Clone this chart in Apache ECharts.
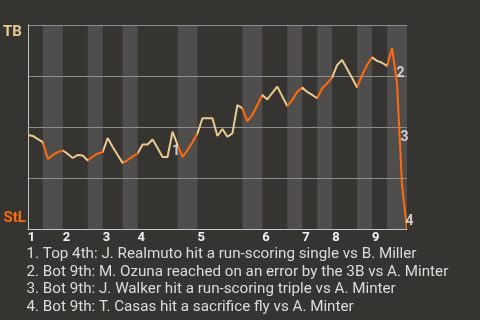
<!DOCTYPE html>
<html>
<head>
<meta charset="utf-8">
<script src="https://cdn.jsdelivr.net/npm/echarts@6/dist/echarts.min.js"></script>
<style>
  html, body { margin: 0; padding: 0; background: #363430; }
  #chart { width: 480px; height: 320px; }
</style>
</head>
<body>
<div id="chart"></div>
<script>
// Tampa Bay win probability (%) after each play; index 0 is the first pitch
const tbWinPct = [
  46.1, 45.6, 44.1, 42.6, 34.3, 36.3, 37.7, 38.5, 36.8, 34.8,
  36.3, 36.0, 33.6, 35.5, 37.0, 37.7, 44.6, 40.2, 36.3, 32.4,
  33.8, 35.5, 37.0, 41.4, 41.4, 43.9, 39.7, 35.3, 35.3, 47.7,
  41.2, 35.4, 38.7, 42.5, 46.9, 54.3, 54.3, 54.3, 45.6, 49.0,
  45.2, 46.9, 60.8, 59.1, 52.9, 55.9, 60.8, 65.7, 63.5, 66.7,
  69.8, 65.0, 60.3, 63.2, 67.3, 69.3, 67.2, 65.7, 64.1, 69.0,
  71.4, 74.3, 80.4, 82.8, 78.4, 74.0, 69.4, 75.5, 80.4, 84.1,
  82.4, 81.5, 79.9, 88.6, 71.6, 21.6, 0
];

// Play index at which each half inning begins
const topHalfStart    = [0, 7, 15, 22, 34, 47, 55, 61, 69];
const bottomHalfStart = [3, 12, 19, 30, 43, 52, 58, 66, 72];
const lastPlay = 76;
const inningLabels = ['1', '2', '3', '4', '5', '6', '7', '8', '9'];

// Highlighted plays and their descriptions
const keyPlays = [29, 74, 75, 76];
const keyPlayNotes = [
  'Top 4th: J. Realmuto hit a run-scoring single vs B. Miller',
  'Bot 9th: M. Ozuna reached on an error by the 3B vs A. Minter',
  'Bot 9th: J. Walker hit a run-scoring triple vs A. Minter',
  'Bot 9th: T. Casas hit a sacrifice fly vs A. Minter'
];

const TAN = '#e8ca92';
const ORANGE = '#ff6a0c';
const BAND = '#4f4e4c';
const FONT = 'Roboto, "Noto Sans", sans-serif';

// label nudges for the play numbers (pixels)
const noteNudge = [[2, 0], [2, 1], [1, -3], [1, 8]];

const halfEnd = i => (i + 1 < topHalfStart.length ? topHalfStart[i + 1] : lastPlay);

const pieces = [];
topHalfStart.forEach((s, i) => {
  pieces.push({ gte: s, lt: bottomHalfStart[i], color: TAN });
  if (i + 1 < topHalfStart.length) {
    pieces.push({ gte: bottomHalfStart[i], lt: halfEnd(i), color: ORANGE });
  } else {
    pieces.push({ gte: bottomHalfStart[i], lte: lastPlay, color: ORANGE });
  }
});

const bands = bottomHalfStart.map((s, i) => [{ xAxis: s }, { xAxis: halfEnd(i) }]);

const lineData = tbWinPct.map((v, i) => [i, v]);

const noteData = keyPlays.map((k, i) => ({
  value: [k - 0.5, (tbWinPct[k - 1] + tbWinPct[k]) / 2],
  label: { offset: noteNudge[i] }
}));

const chart = echarts.init(document.getElementById('chart'), null, { renderer: 'canvas' });

chart.setOption({
  backgroundColor: '#363430',
  animation: false,
  title: {
    text: keyPlayNotes.map((t, i) => (i + 1) + '. ' + t).join('\n'),
    left: 26.5,
    top: 245,
    padding: 0,
    textStyle: {
      color: '#dcdcdc',
      fontFamily: FONT,
      fontSize: 15.2,
      fontWeight: 'normal',
      lineHeight: 17.8
    }
  },
  grid: { left: 26, right: 73, top: 25, bottom: 91 },
  visualMap: {
    show: false,
    type: 'piecewise',
    dimension: 0,
    seriesIndex: 1,
    pieces: pieces
  },
  xAxis: {
    type: 'value',
    min: 0,
    max: lastPlay,
    z: 2,
    axisLine: { show: true, lineStyle: { color: '#c4c4c4', width: 1 } },
    axisTick: { show: false },
    splitLine: { show: false },
    axisLabel: {
      customValues: topHalfStart,
      formatter: v => inningLabels[topHalfStart.indexOf(v)],
      align: 'left',
      margin: 2,
      color: '#f2f2f2',
      fontFamily: FONT,
      fontWeight: 'bold',
      fontSize: 13
    }
  },
  yAxis: [
    {
      type: 'value',
      min: 0,
      max: 100,
      interval: 25,
      z: 2,
      axisLine: { show: true, lineStyle: { color: '#c4c4c4', width: 1 } },
      axisTick: { show: false },
      splitLine: { show: true, lineStyle: { color: '#8e8e8e', width: 1 } },
      axisLabel: {
        customValues: [100],
        formatter: () => 'TB',
        verticalAlign: 'top',
        margin: 6,
        padding: [0, 0, 0, 0],
        color: TAN,
        fontFamily: FONT,
        fontWeight: 'bold',
        fontSize: 15
      }
    },
    {
      type: 'value',
      position: 'left',
      min: 0,
      max: 100,
      interval: 25,
      axisLine: { show: false },
      axisTick: { show: false },
      splitLine: { show: false },
      axisLabel: {
        customValues: [0],
        formatter: () => 'StL',
        verticalAlign: 'bottom',
        margin: 2,
        padding: [0, 0, 3, 0],
        color: ORANGE,
        fontFamily: FONT,
        fontWeight: 'bold',
        fontSize: 15
      }
    }
  ],
  series: [
    {
      // bottom-half shading
      type: 'line',
      data: [],
      z: 1,
      silent: true,
      markArea: {
        silent: true,
        z: 1,
        itemStyle: { color: BAND },
        data: bands
      }
    },
    {
      type: 'line',
      data: lineData,
      z: 3,
      showSymbol: false,
      symbol: 'none',
      lineStyle: { width: 2 }
    },
    {
      type: 'scatter',
      data: noteData,
      z: 4,
      symbolSize: 0,
      silent: true,
      label: {
        show: true,
        position: 'inside',
        align: 'left',
        verticalAlign: 'top',
        formatter: p => String(p.dataIndex + 1),
        color: '#f0f0f0',
        fontFamily: FONT,
        fontWeight: 'bold',
        fontSize: 14
      }
    }
  ]
});
</script>
</body>
</html>
